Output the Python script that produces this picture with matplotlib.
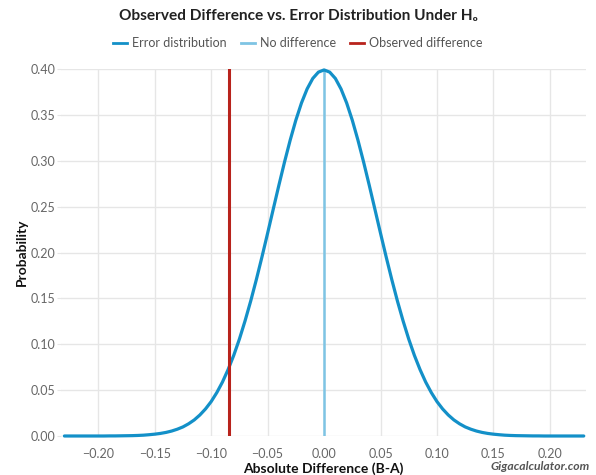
import matplotlib
matplotlib.use("Agg")
import matplotlib.pyplot as plt
from matplotlib.lines import Line2D

plt.rcParams['font.family'] = ['Lato', 'DejaVu Sans']

# Data
x_values = [-0.230, -0.225, -0.220, -0.215, -0.210, -0.205, -0.200, -0.195, -0.190, -0.185,
            -0.180, -0.175, -0.170, -0.165, -0.160, -0.155, -0.150, -0.145, -0.140, -0.135,
            -0.130, -0.125, -0.120, -0.115, -0.110, -0.105, -0.100, -0.095, -0.090, -0.085,
            -0.080, -0.075, -0.070, -0.065, -0.060, -0.055, -0.050, -0.045, -0.040, -0.035,
            -0.030, -0.025, -0.020, -0.015, -0.010, -0.005, 0.000, 0.005, 0.010, 0.015,
            0.020, 0.025, 0.030, 0.035, 0.040, 0.045, 0.050, 0.055, 0.060, 0.065,
            0.070, 0.075, 0.080, 0.085, 0.090, 0.095, 0.100, 0.105, 0.110, 0.115,
            0.120, 0.125, 0.130, 0.135, 0.140, 0.145, 0.150, 0.155, 0.160, 0.165,
            0.170, 0.175, 0.180, 0.185, 0.190, 0.195, 0.200, 0.205, 0.210, 0.215,
            0.220, 0.225, 0.230]
error_density = [0.0000, 0.0000, 0.0000, 0.0000, 0.0000, 0.0000, 0.0000, 0.0000, 0.0001, 0.0001,
                 0.0002, 0.0003, 0.0004, 0.0006, 0.0009, 0.0014, 0.0020, 0.0028, 0.0039, 0.0054,
                 0.0074, 0.0099, 0.0133, 0.0175, 0.0229, 0.0295, 0.0375, 0.0473, 0.0588, 0.0724,
                 0.0879, 0.1056, 0.1254, 0.1470, 0.1704, 0.1952, 0.2210, 0.2473, 0.2734, 0.2987,
                 0.3225, 0.3442, 0.3630, 0.3783, 0.3897, 0.3966, 0.3990, 0.3966, 0.3897, 0.3783,
                 0.3630, 0.3442, 0.3225, 0.2987, 0.2734, 0.2473, 0.2210, 0.1952, 0.1704, 0.1470,
                 0.1254, 0.1056, 0.0879, 0.0724, 0.0588, 0.0473, 0.0375, 0.0295, 0.0229, 0.0175,
                 0.0133, 0.0099, 0.0074, 0.0054, 0.0039, 0.0028, 0.0020, 0.0014, 0.0009, 0.0006,
                 0.0004, 0.0003, 0.0002, 0.0001, 0.0001, 0.0000, 0.0000, 0.0000, 0.0000, 0.0000,
                 0.0000, 0.0000, 0.0000]
no_difference = 0.0
observed_difference = -0.084
x_ticks = [-0.20, -0.15, -0.10, -0.05, 0.00, 0.05, 0.10, 0.15, 0.20]
y_ticks = [0.00, 0.05, 0.10, 0.15, 0.20, 0.25, 0.30, 0.35, 0.40]

c_err = '#1390c8'
c_nodiff = '#7ec4e4'
c_obs = '#b8231c'
grid_c = '#e6e6e6'
tick_c = '#666666'

fig = plt.figure(figsize=(5.96, 4.75), dpi=100)
ax = fig.add_axes([61/596, 1 - 436/475, (586-61)/596, (436-69)/475])

ax.plot(x_values, error_density, color=c_err, lw=2.3, solid_capstyle='round', zorder=3, clip_on=False)
ax.axvline(no_difference, color=c_nodiff, lw=1.8, zorder=2)
ax.axvline(observed_difference, color=c_obs, lw=2.2, zorder=4)

ax.set_xlim(-0.233, 0.232)
ax.set_ylim(0, 0.40)
ax.set_xticks(x_ticks)
ax.set_yticks(y_ticks)
ax.set_xticklabels([f"{v:.2f}".replace('-', '\u2212') for v in x_ticks])
ax.set_yticklabels([f"{v:.2f}" for v in y_ticks])
ax.grid(True, color=grid_c, lw=1, zorder=0)
for s in ax.spines.values():
    s.set_visible(False)
ax.tick_params(axis='y', length=3, color=grid_c, labelcolor=tick_c, labelsize=9, pad=1)
ax.tick_params(axis='x', length=0, labelcolor=tick_c, labelsize=9, pad=9)

ax.set_xlabel('Absolute Difference (B-A)', fontsize=10, fontweight='bold', color='#111111', labelpad=1)
ax.set_ylabel('Probability', fontsize=10, fontweight='bold', color='#111111', labelpad=2)

fig.text(0.5, 1 - 16/475, 'Observed Difference vs. Error Distribution Under H\u2080',
         ha='center', va='center', fontsize=11.1, fontweight='bold', color='#222222')

handles = [Line2D([], [], color=c_err, lw=2),
           Line2D([], [], color=c_nodiff, lw=2),
           Line2D([], [], color=c_obs, lw=2)]
fig.legend(handles, ['Error distribution', 'No difference', 'Observed difference'],
           loc='center', bbox_to_anchor=(0.5, 1 - 43/475), ncol=3, frameon=False,
           fontsize=9, handlelength=1.1, handletextpad=0.45, columnspacing=1.1,
           labelcolor='#555555')

fig.text(590/596, 1 - 466/475, 'Gigacalculator.com', ha='right', va='center',
         fontsize=8.7, style='italic', fontweight='bold', color='#555555')

fig.savefig('out.png', dpi=100, facecolor='white')
